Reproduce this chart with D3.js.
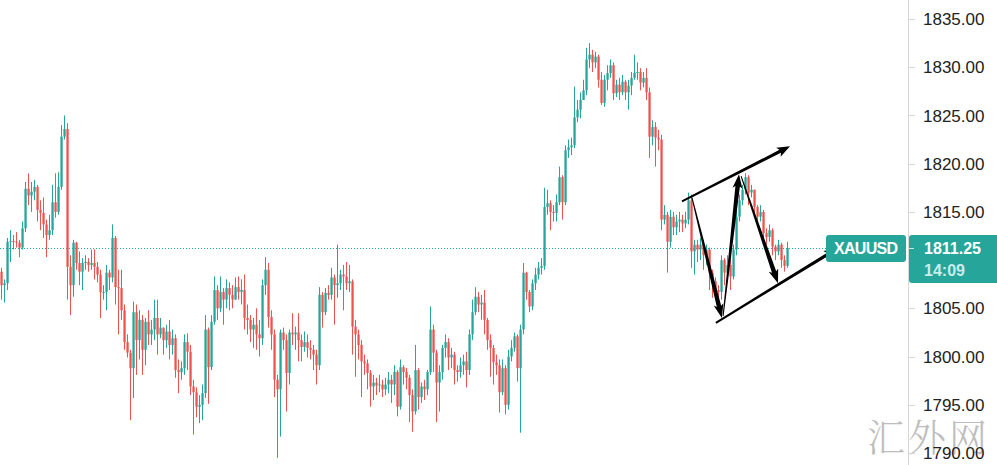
<!DOCTYPE html>
<html><head><meta charset="utf-8">
<script src="https://cdn.jsdelivr.net/npm/d3@7"></script>
<style>body{margin:0;background:#fff;overflow:hidden}svg{display:block}</style>
</head><body>
<svg id="chart" width="997" height="465"></svg>
<script>
const firstOpen = 1808.8;
const closes = [
1807.4,1807.6,1811.9,1812.0,1811.9,1811.8,1811.3,1813.3,1817.4,1816.7,
1817.1,1817.6,1815.2,1814.9,1813.7,1812.6,1813.1,1816.0,1815.0,1817.6,
1822.8,1823.6,1809.3,1807.4,1811.8,1809.7,1808.8,1809.7,1809.8,1809.5,
1809.7,1809.3,1808.5,1806.7,1806.7,1808.7,1808.2,1812.3,1807.2,1807.1,
1804.8,1801.5,1800.4,1798.8,1804.6,1801.7,1803.8,1800.7,1803.6,1802.3,
1802.8,1804.0,1802.3,1803.0,1801.7,1802.6,1801.2,1801.9,1798.6,1798.4,
1798.8,1801.5,1800.5,1796.9,1796.3,1794.8,1795.0,1796.2,1802.8,1798.9,
1803.6,1806.9,1805.0,1806.7,1805.9,1807.1,1806.4,1805.9,1807.2,1806.7,
1806.9,1804.0,1803.8,1802.8,1803.3,1802.3,1801.9,1807.4,1809.0,1804.1,
1802.3,1797.6,1796.6,1802.5,1801.7,1798.3,1802.5,1802.3,1802.5,1801.7,
1801.0,1801.5,1800.9,1800.7,1800.2,1799.1,1806.4,1804.6,1806.6,1806.4,
1808.2,1807.4,1807.6,1808.5,1808.3,1807.6,1807.8,1803.1,1802.3,1801.2,
1799.5,1799.3,1798.3,1796.9,1797.3,1797.0,1797.1,1796.6,1797.1,1797.6,
1797.1,1798.4,1794.8,1798.9,1798.4,1797.8,1796.0,1794.3,1798.6,1795.8,
1796.9,1796.6,1798.4,1802.8,1800.4,1797.3,1798.4,1800.9,1801.5,1799.9,
1800.2,1798.6,1798.4,1799.1,1799.5,1798.6,1802.3,1804.6,1806.2,1805.4,
1805.6,1803.8,1801.7,1800.9,1799.4,1799.1,1796.3,1798.8,1795.0,1800.0,
1800.9,1802.1,1798.8,1802.8,1808.7,1806.7,1805.2,1807.6,1808.5,1809.2,
1809.4,1815.5,1815.9,1815.0,1814.9,1816.0,1818.6,1816.0,1821.4,1821.7,
1821.9,1824.8,1825.6,1826.6,1827.6,1830.8,1831.3,1830.5,1831.1,1828.7,
1826.3,1828.7,1829.4,1830.2,1827.3,1828.2,1827.4,1828.5,1827.4,1828.1,
1828.9,1829.4,1829.5,1828.4,1828.9,1827.4,1822.8,1823.8,1822.7,1822.5,
1814.2,1814.7,1811.9,1814.5,1813.4,1814.0,1814.2,1813.8,1814.2,1816.2,
1810.9,1811.6,1811.1,1811.6,1810.5,1811.1,1808.7,1807.8,1806.9,1806.7,
1810.0,1808.7,1809.5,1808.3,1811.1,1814.5,1816.2,1817.3,1818.6,1817.0,
1817.3,1815.5,1814.5,1815.0,1812.8,1812.4,1813.1,1811.4,1810.9,1811.6,
1810.0,1809.4,1811.25];
const highs = [
1809.2,1808.0,1812.3,1813.1,1812.6,1812.9,1812.1,1814.0,1818.1,1819.0,
1818.1,1818.3,1817.8,1816.2,1816.5,1814.2,1814.7,1817.8,1819.0,1819.1,
1824.0,1825.0,1824.2,1810.5,1812.1,1811.9,1810.9,1810.2,1810.5,1810.2,
1811.1,1811.1,1809.8,1809.0,1807.4,1809.5,1809.0,1813.7,1812.5,1809.0,
1809.0,1805.4,1802.3,1800.7,1805.7,1805.4,1804.8,1804.3,1804.0,1804.8,
1803.8,1805.9,1805.9,1804.0,1802.8,1803.3,1803.8,1802.8,1802.3,1799.7,
1799.5,1802.3,1802.4,1801.2,1797.6,1796.8,1796.0,1797.1,1804.3,1803.0,
1804.3,1808.3,1807.4,1808.3,1807.1,1808.0,1807.7,1807.4,1808.2,1808.3,
1808.0,1808.5,1805.4,1804.3,1804.0,1805.0,1803.8,1808.0,1810.3,1809.7,
1804.8,1802.8,1798.1,1802.8,1803.0,1802.3,1802.8,1804.5,1803.1,1804.5,
1802.3,1802.6,1802.3,1801.7,1801.2,1800.7,1807.2,1806.7,1807.1,1807.4,
1809.2,1808.5,1811.6,1809.0,1809.5,1809.8,1809.5,1808.0,1803.8,1802.8,
1801.7,1800.2,1799.7,1798.6,1798.1,1797.8,1798.1,1797.6,1797.8,1798.4,
1798.1,1799.1,1798.6,1799.7,1799.1,1798.8,1798.1,1796.6,1801.2,1798.8,
1797.3,1797.6,1798.6,1805.2,1803.3,1800.7,1799.1,1801.2,1802.3,1801.9,
1800.9,1800.5,1799.1,1799.9,1800.2,1800.5,1802.8,1805.9,1807.2,1806.7,
1806.4,1806.9,1804.0,1802.3,1801.2,1800.2,1799.7,1799.7,1799.1,1800.7,
1801.7,1802.5,1802.3,1803.3,1809.7,1808.8,1806.9,1808.0,1809.2,1809.8,
1810.2,1817.5,1817.3,1816.2,1815.7,1816.8,1819.7,1818.8,1821.9,1822.5,
1822.7,1828.0,1826.6,1827.4,1828.7,1832.0,1832.5,1831.8,1831.6,1831.3,
1829.5,1829.2,1830.2,1830.8,1830.5,1828.7,1828.9,1829.2,1828.7,1828.7,
1829.5,1831.3,1830.5,1829.9,1829.5,1829.9,1827.9,1824.5,1824.3,1823.5,
1823.0,1815.7,1815.0,1815.2,1815.0,1814.7,1815.0,1814.7,1815.0,1817.0,
1816.8,1812.1,1812.1,1812.3,1812.1,1811.6,1811.3,1809.0,1808.2,1807.4,
1810.5,1810.2,1810.5,1811.6,1811.6,1815.2,1816.8,1817.8,1819.0,1818.8,
1817.8,1817.3,1815.7,1815.7,1815.2,1813.3,1813.7,1813.3,1811.6,1812.1,
1811.8,1810.5,1811.9];
const lows = [
1805.9,1805.6,1806.9,1809.8,1811.1,1811.3,1810.3,1811.1,1812.9,1815.7,
1815.0,1816.2,1814.0,1813.1,1812.3,1810.3,1812.1,1812.6,1814.4,1814.7,
1817.3,1822.5,1805.9,1804.3,1806.2,1809.0,1807.4,1806.9,1809.0,1808.8,
1809.0,1808.0,1807.7,1804.0,1805.9,1804.8,1806.9,1807.7,1805.4,1802.3,
1803.8,1800.7,1799.9,1793.4,1795.7,1798.1,1799.7,1798.1,1799.1,1801.2,
1801.2,1801.7,1800.2,1801.9,1800.2,1800.9,1799.7,1800.2,1797.8,1796.2,
1797.6,1798.1,1798.6,1796.0,1791.9,1793.7,1793.1,1793.4,1795.7,1795.1,
1798.6,1803.3,1803.8,1804.6,1803.3,1805.0,1804.8,1805.0,1805.9,1805.9,
1805.4,1802.8,1802.3,1801.5,1800.9,1800.7,1800.0,1801.2,1806.4,1803.0,
1800.7,1795.8,1789.5,1791.7,1800.7,1794.3,1797.1,1801.2,1800.7,1799.5,
1799.5,1800.5,1799.9,1799.7,1798.6,1797.1,1798.6,1803.0,1804.3,1805.9,
1805.9,1803.3,1806.1,1806.9,1804.8,1806.9,1806.7,1800.2,1797.9,1799.7,
1795.8,1798.1,1796.6,1794.8,1795.5,1796.0,1796.3,1795.8,1796.0,1796.2,
1795.2,1796.0,1793.8,1794.5,1797.1,1796.6,1793.2,1792.2,1794.0,1794.5,
1795.2,1795.5,1796.0,1798.1,1798.4,1793.2,1794.3,1797.6,1799.9,1798.6,
1798.8,1797.1,1797.4,1797.8,1798.1,1796.8,1798.1,1801.7,1804.3,1804.6,
1803.8,1802.3,1800.7,1797.9,1797.1,1798.1,1794.2,1796.0,1794.0,1794.5,
1799.5,1800.5,1797.4,1792.1,1802.3,1805.9,1804.6,1804.8,1806.9,1808.0,
1808.5,1809.0,1814.7,1813.1,1814.0,1814.0,1815.7,1814.2,1815.7,1820.6,
1820.9,1821.6,1824.3,1824.7,1826.6,1827.1,1829.9,1829.5,1829.9,1827.9,
1826.1,1825.9,1827.6,1828.9,1826.6,1826.9,1826.6,1827.1,1826.6,1825.6,
1827.1,1828.7,1828.7,1827.6,1827.9,1826.6,1820.6,1821.9,1819.7,1821.4,
1813.1,1813.7,1808.7,1811.3,1812.6,1812.6,1812.9,1812.9,1813.3,1813.7,
1809.2,1808.5,1809.8,1810.0,1809.0,1809.5,1806.9,1806.1,1805.9,1805.4,
1805.9,1807.4,1808.0,1806.9,1808.0,1810.5,1814.0,1815.7,1816.8,1815.7,
1816.5,1814.7,1813.7,1814.0,1812.1,1811.6,1811.9,1810.5,1810.0,1810.5,
1809.2,1808.8,1809.2];
const priceTicks = [1790,1795,1800,1805,1810,1815,1820,1825,1830,1835];
const symbol = "XAUUSD";
const lastPrice = 1811.25;
const countdown = "14:09";
const watermark = "汇外网";
// hand-drawn annotations: [startIndex, startPrice, endIndex, endPrice]
const channelLines = [[227, 1816.1, 263, 1821.8],[238.3, 1803.5, 278.7, 1811.2]];
const zigzagLegs = [[230.3, 1816.5, 240.3, 1804.0],[240.7, 1804.2, 246.0, 1818.9],[246.7, 1818.7, 259.0, 1807.6]];

const UP = "#26a69a", DOWN = "#ef5350";
const svg = d3.select("#chart");
const n = closes.length;
const x = d3.scaleLinear().domain([0, n - 1]).range([1, 1 + 3 * (n - 1)]);
const y = d3.scaleLinear().domain([1790, 1835]).range([453, 19]);

const candles = closes.map((c, i) => {
  const o = i === 0 ? firstOpen : closes[i - 1];
  return {o, c, h: Math.max(highs[i], o, c), l: Math.min(lows[i], o, c)};
});

// watermark
svg.append("text").attr("x", 867).attr("y", 451)
  .attr("font-family", "'Noto Serif CJK SC','Noto Sans CJK SC',serif")
  .attr("font-size", 38).attr("font-weight", 300)
  .attr("fill", "#bdbdbd").attr("letter-spacing", 3).text(watermark);

// last price dotted line
svg.append("line").attr("x1", 0).attr("x2", 826)
  .attr("y1", Math.round(y(lastPrice)) + 0.5).attr("y2", Math.round(y(lastPrice)) + 0.5)
  .attr("stroke", UP).attr("stroke-width", 1).attr("stroke-dasharray", "1 2");

// candles
const g = svg.append("g");
g.selectAll("line.wick").data(candles).join("line")
  .attr("x1", (d, i) => Math.round(x(i)) + 0.5).attr("x2", (d, i) => Math.round(x(i)) + 0.5)
  .attr("y1", d => y(d.h)).attr("y2", d => y(d.l))
  .attr("stroke", d => d.c >= d.o ? UP : DOWN).attr("stroke-width", 1);
g.selectAll("rect.body").data(candles).join("rect")
  .attr("x", (d, i) => Math.round(x(i)) - 0.6).attr("width", 2.3)
  .attr("y", d => y(Math.max(d.o, d.c)))
  .attr("height", d => Math.max(1, Math.abs(y(d.o) - y(d.c))))
  .attr("fill", d => d.c >= d.o ? UP : DOWN);

// tapered arrows
function arrowPath(x1, y1, x2, y2, w0, w1, hl, hw) {
  const dx = x2 - x1, dy = y2 - y1, L = Math.hypot(dx, dy);
  const ux = dx / L, uy = dy / L, nx = -uy, ny = ux;
  const bx = x2 - ux * hl, by = y2 - uy * hl;
  const p = d3.path();
  p.moveTo(x1 + nx * w0 / 2, y1 + ny * w0 / 2);
  p.lineTo(bx + ux * 2 + nx * w1 / 2, by + uy * 2 + ny * w1 / 2);
  p.lineTo(bx + nx * hw / 2, by + ny * hw / 2);
  p.lineTo(x2, y2);
  p.lineTo(bx - nx * hw / 2, by - ny * hw / 2);
  p.lineTo(bx + ux * 2 - nx * w1 / 2, by + uy * 2 - ny * w1 / 2);
  p.lineTo(x1 - nx * w0 / 2, y1 - ny * w0 / 2);
  p.closePath();
  return p.toString();
}
const ann = svg.append("g").attr("fill", "#000");
channelLines.forEach(a => ann.append("path")
  .attr("d", arrowPath(x(a[0]), y(a[1]), x(a[2]), y(a[3]), 2, 3.2, 13, 10)));
zigzagLegs.forEach(a => ann.append("path")
  .attr("d", arrowPath(x(a[0]), y(a[1]), x(a[2]), y(a[3]), 1, 4.5, 14, 10)));

// right axis
const axisX = 908;
svg.append("line").attr("x1", axisX + 0.5).attr("x2", axisX + 0.5).attr("y1", 0).attr("y2", 465)
  .attr("stroke", "#d6d6d6");
const ax = svg.append("g");
priceTicks.forEach(t => {
  ax.append("line").attr("x1", axisX).attr("x2", axisX + 7)
    .attr("y1", Math.round(y(t)) + 0.5).attr("y2", Math.round(y(t)) + 0.5).attr("stroke", "#d6d6d6");
  ax.append("text").attr("x", 923).attr("y", y(t)).attr("dy", "0.36em")
    .attr("font-family", "'Liberation Sans',Arial,sans-serif").attr("font-size", 17)
    .attr("fill", "#222").text(d3.format(".2f")(t));
});

// symbol label
const yl = y(lastPrice);
svg.append("rect").attr("x", 826).attr("y", yl - 13).attr("width", 80).attr("height", 27)
  .attr("rx", 3).attr("fill", UP);
svg.append("text").attr("x", 866).attr("y", yl).attr("dy", "0.36em").attr("text-anchor", "middle")
  .attr("font-family", "'Liberation Sans',Arial,sans-serif").attr("font-size", 16).attr("font-weight", "bold")
  .attr("fill", "#fff").attr("textLength", 64).text(symbol);
// price label
svg.append("rect").attr("x", axisX + 1).attr("y", yl - 13).attr("width", 100).attr("height", 48)
  .attr("rx", 3).attr("fill", UP);
svg.append("line").attr("x1", axisX + 1).attr("x2", axisX + 6).attr("y1", Math.round(yl) + 0.5).attr("y2", Math.round(yl) + 0.5)
  .attr("stroke", "#bfe6e2");
svg.append("text").attr("x", 924).attr("y", yl).attr("dy", "0.35em")
  .attr("font-family", "'Liberation Sans',Arial,sans-serif").attr("font-size", 16).attr("font-weight", "bold")
  .attr("fill", "#fff").text(d3.format(".2f")(lastPrice));
svg.append("text").attr("x", 924).attr("y", yl + 22).attr("dy", "0.35em")
  .attr("font-family", "'Liberation Sans',Arial,sans-serif").attr("font-size", 16).attr("font-weight", "bold")
  .attr("fill", "#c9ede9").text(countdown);
</script>
</body></html>
